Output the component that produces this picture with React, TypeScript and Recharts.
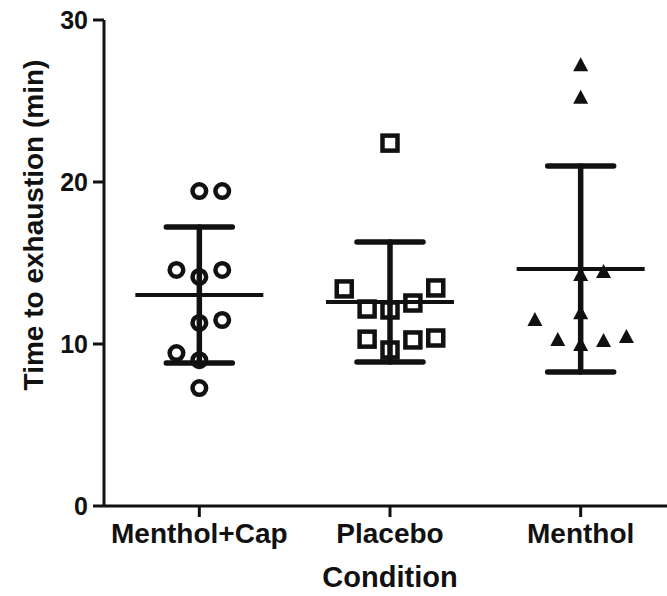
import { ErrorBar, Scatter, ScatterChart, XAxis, YAxis } from "recharts";

const categories = ["Menthol+Cap", "Placebo", "Menthol"];

// individual subjects: value (min) and column slot within the group
const mentholCapValues = [19.44, 19.44, 14.57, 14.14, 14.57, 11.3, 11.48, 9.44, 9.0, 7.28];
const mentholCapSlots = [0, 1, -1, 0, 1, 0, 1, -1, 0, 0];

const placeboValues = [22.4, 13.4, 12.16, 12.1, 12.53, 13.46, 10.3, 9.63, 10.25, 10.37];
const placeboSlots = [0, -2, -1, 0, 1, 2, -1, 0, 1, 2];

const mentholValues = [27.2, 25.2, 14.44, 14.26, 11.9, 11.48, 10.25, 9.94, 10.19, 10.43];
const mentholSlots = [0, 0, 1, 0, 0, -2, -1, 0, 1, 2];

// group mean and SD
const means = [13.02, 12.59, 14.63];
const sds = [4.2, 3.7, 6.36];

const SLOT_STEP = 0.12;
const INK = "#111111";
const FONT = "Arial, 'Liberation Sans', sans-serif";

function toPoints(values: number[], slots: number[], group: number) {
  return values.map((v, i) => ({ x: group + slots[i] * SLOT_STEP, y: v }));
}

const summary = means.map((m, i) => ({ x: i + 1, y: m, err: sds[i] }));

const Circle = (p: any) => (
  <circle cx={p.cx} cy={p.cy} r={6.8} fill="none" stroke={INK} strokeWidth={4.5} />
);

const Square = (p: any) => (
  <rect x={p.cx - 7.5} y={p.cy - 7.5} width={15} height={15} fill="none" stroke={INK} strokeWidth={4.5} />
);

const Triangle = (p: any) => (
  <polygon
    points={`${p.cx},${p.cy - 8} ${p.cx - 7.5},${p.cy + 6} ${p.cx + 7.5},${p.cy + 6}`}
    fill={INK}
  />
);

const MeanLine = (p: any) => (
  <line x1={p.cx - 64} x2={p.cx + 64} y1={p.cy} y2={p.cy} stroke={INK} strokeWidth={4} />
);

const YLabel = () => (
  <text
    x={33}
    y={225}
    transform="rotate(-90 33 225)"
    textAnchor="middle"
    dominantBaseline="central"
    fontFamily={FONT}
    fontWeight="bold"
    fontSize={28}
    fill={INK}
  >
    Time to exhaustion (min)
  </text>
);

const XLabel = () => (
  <text
    x={390}
    y={577}
    textAnchor="middle"
    dominantBaseline="central"
    fontFamily={FONT}
    fontWeight="bold"
    fontSize={29}
    fill={INK}
  >
    Condition
  </text>
);

export default function App() {
  return (
    <div
      style={{
        position: "absolute",
        left: 0,
        top: 0,
        width: 667,
        height: 596,
        overflow: "hidden",
        background: "#fff",
      }}
    >
      <ScatterChart
        width={676}
        height={596}
        margin={{ top: 20, right: 0, left: 0, bottom: 0 }}
      >
        <XAxis
          type="number"
          dataKey="x"
          domain={[0.5, 3.5]}
          ticks={[1, 2, 3]}
          tickFormatter={(v: number) => categories[v - 1]}
          allowDataOverflow
          height={90}
          tickSize={11}
          tickMargin={6}
          stroke={INK}
          strokeWidth={3}
          tick={{ fontFamily: FONT, fontWeight: "bold", fontSize: 28, fill: INK }}
          label={<XLabel />}
        />
        <YAxis
          type="number"
          dataKey="y"
          domain={[0, 30]}
          ticks={[0, 10, 20, 30]}
          width={104}
          tickSize={11}
          tickMargin={5}
          stroke={INK}
          strokeWidth={3}
          tick={{ fontFamily: FONT, fontWeight: "bold", fontSize: 25, fill: INK }}
          label={<YLabel />}
        />
        <Scatter data={summary} shape={<MeanLine />} isAnimationActive={false}>
          <ErrorBar
            dataKey="err"
            direction="y"
            width={33}
            stroke={INK}
            strokeWidth={5.5}
            strokeLinecap="round"
          />
        </Scatter>
        <Scatter
          data={toPoints(mentholCapValues, mentholCapSlots, 1)}
          shape={<Circle />}
          isAnimationActive={false}
        />
        <Scatter
          data={toPoints(placeboValues, placeboSlots, 2)}
          shape={<Square />}
          isAnimationActive={false}
        />
        <Scatter
          data={toPoints(mentholValues, mentholSlots, 3)}
          shape={<Triangle />}
          isAnimationActive={false}
        />
      </ScatterChart>
    </div>
  );
}
